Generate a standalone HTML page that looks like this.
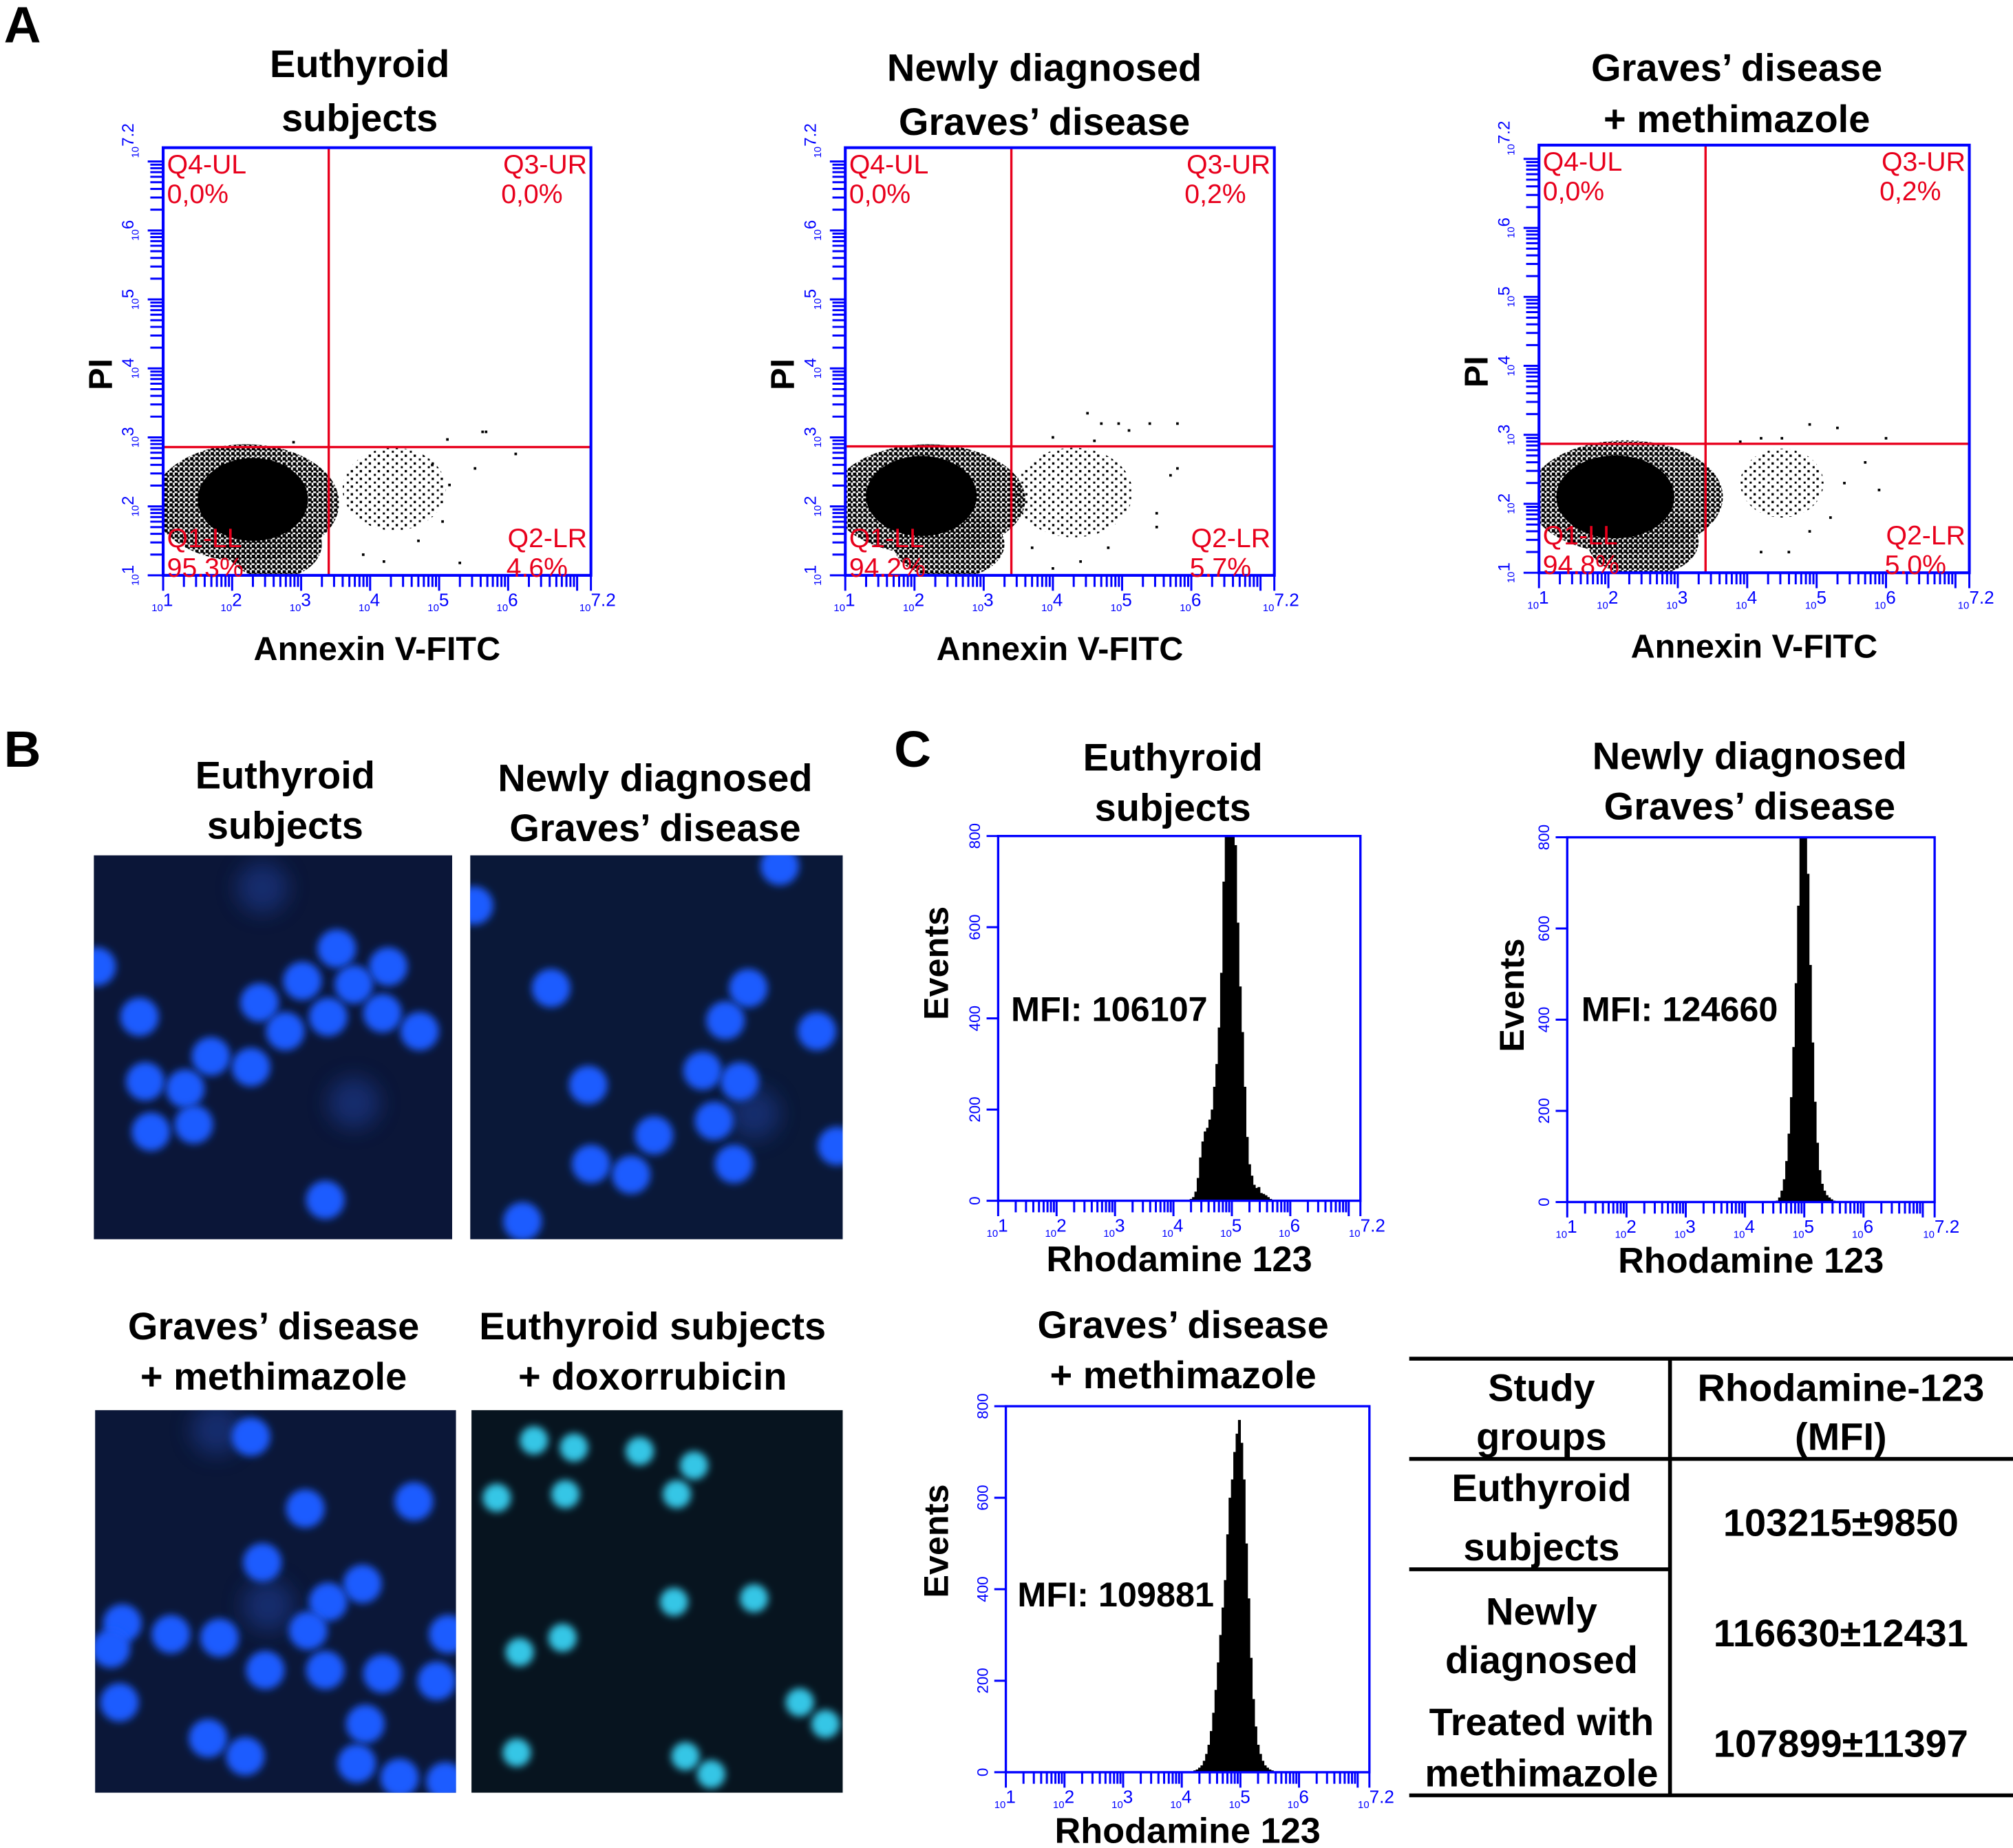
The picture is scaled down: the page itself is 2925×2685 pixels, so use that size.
<!DOCTYPE html>
<html><head><meta charset="utf-8"><style>
html,body{margin:0;padding:0;background:#fff}
svg{display:block}
text{font-family:"Liberation Sans",Arial,sans-serif}
</style></head>
<body>
<svg id="fig" xmlns="http://www.w3.org/2000/svg" width="2925" height="2685" viewBox="0 0 1567 1439" preserveAspectRatio="none">
<defs>
<pattern id="pDense" width="4" height="4" patternUnits="userSpaceOnUse"><rect width="2.6" height="2.6" fill="#000"/><rect x="2" y="2" width="1.8" height="1.8" fill="#000"/></pattern>
<pattern id="pSparse" width="7" height="6" patternUnits="userSpaceOnUse"><rect width="1.8" height="1.8" fill="#000"/><rect x="4" y="3" width="1.6" height="1.6" fill="#000"/></pattern>
<filter id="blur" x="-50%" y="-50%" width="200%" height="200%"><feGaussianBlur stdDeviation="3"/></filter>
<filter id="blur2" x="-50%" y="-50%" width="200%" height="200%"><feGaussianBlur stdDeviation="8"/></filter>
</defs>
</svg>
<script>
// ---------- DATA ----------
const scatterTitles = [["Euthyroid","subjects"],["Newly diagnosed","Graves’ disease"],["Graves’ disease","+ methimazole"]];
const q4Values = ["0,0%","0,0%","0,0%"];
const q3Values = ["0,0%","0,2%","0,2%"];
const q1Values = ["95.3%","94.2%","94.8%"];
const q2Values = ["4.6%","5.7%","5.0%"];
const quadXGate = [3.4, 3.4, 3.4];
const quadYGate = [2.86, 2.87, 2.87];
// cluster blobs in log units: [cx, cy, rx, ry]
const coreClusters = [[2.3,2.1,0.8,0.6],[2.1,2.15,0.8,0.58],[2.1,2.1,0.85,0.6]];
const denseClusters = [[2.2,2.05,1.35,0.85],[2.2,2.1,1.4,0.8],[2.25,2.1,1.4,0.82]];
const lowerClusters = [[2.6,1.45,0.7,0.5],[2.5,1.45,0.8,0.5],[2.5,1.45,0.8,0.5]];
const sparseClusters = [[4.35,2.25,0.75,0.6],[4.3,2.2,0.85,0.65],[4.5,2.3,0.6,0.5]];
const sparsePointsA1 = [[5.12,2.97],[5.63,3.08],[5.68,3.08],[6.11,2.76],[5.52,2.55],[5.15,2.31],[5.05,1.78],[5.3,1.18],[2.89,2.93],[4.9,2.6],[4.7,1.5],[3.9,1.3],[4.2,1.2]];
const sparsePointsA2 = [[4.5,3.35],[4.7,3.2],[4.95,3.2],[5.4,3.2],[5.8,3.2],[5.1,3.1],[4.0,3.0],[4.6,2.95],[5.8,2.55],[5.7,2.45],[5.5,1.9],[5.5,1.7],[4.8,1.4],[4.4,1.2],[4.0,1.1],[3.7,1.4]];
const sparsePointsA3 = [[4.2,2.95],[4.5,2.95],[4.9,3.15],[5.3,3.1],[6.0,2.95],[5.7,2.6],[5.4,2.3],[5.2,1.8],[4.9,1.6],[4.6,1.3],[3.9,2.9],[5.9,2.2],[4.2,1.3]];
const sparsePoints = [sparsePointsA1, sparsePointsA2, sparsePointsA3];

const binsC1 = [4.30,4.34,4.38,4.42,4.46,4.50,4.54,4.58,4.62,4.66,4.70,4.74,4.78,4.82,4.86,4.90,4.94,4.98,5.02,5.06,5.10,5.14,5.18,5.22,5.26,5.30,5.34,5.38,5.42,5.46,5.50,5.54,5.58,5.62,5.66];
const countsC1 = [4,8,20,50,95,130,152,160,178,200,250,300,380,500,700,800,800,800,800,780,610,470,370,250,140,80,55,35,28,30,17,15,12,8,4];
const binsC2 = [4.54,4.58,4.62,4.66,4.70,4.74,4.78,4.82,4.86,4.90,4.94,4.98,5.02,5.06,5.10,5.14,5.18,5.22,5.26,5.30,5.34,5.38,5.42,5.46,5.50];
const countsC2 = [3,10,25,50,90,150,230,340,480,650,800,800,800,720,520,350,220,130,70,40,25,15,10,6,3];
const binsC3 = [4.18,4.22,4.26,4.30,4.34,4.38,4.42,4.46,4.50,4.54,4.58,4.62,4.66,4.70,4.74,4.78,4.82,4.86,4.90,4.94,4.98,5.02,5.06,5.10,5.14,5.18,5.22,5.26,5.30,5.34,5.38,5.42,5.46,5.50,5.54,5.58];
const countsC3 = [2,4,6,10,15,25,40,60,90,130,180,240,300,360,420,520,600,640,700,740,770,720,640,500,380,250,160,100,60,40,25,15,10,6,4,2];
const mfiLabels = ["MFI: 106107","MFI: 124660","MFI: 109881"];
const eventTicks = [0,200,400,600,800];
const decadeTicks = [1,2,3,4,5,6,7];

// ---------- HELPERS ----------
const NS = "http://www.w3.org/2000/svg";
const svg = document.getElementById("fig");
function mk(tag, attrs, parent){
  const e = document.createElementNS(NS, tag);
  for (const k in attrs) e.setAttribute(k, attrs[k]);
  (parent||svg).appendChild(e);
  return e;
}
function txt(s, x, y, size, parent, extra){
  const a = {x:x, y:y, "font-size":size};
  for (const k in (extra||{})) a[k] = extra[k];
  const t = mk("text", a, parent);
  t.textContent = s;
  return t;
}
function grp(parent){ return mk("g", {}, parent); }

let el;
el = txt("A", 3, 33, 40, svg, {"font-weight":"bold"});


el = txt("B", 3, 597, 40, svg, {"font-weight":"bold"});


el = txt("C", 696, 597, 40, svg, {"font-weight":"bold"});



function logTicksX(g, L, R, B, lo, hi){
  const X = l => L + (l-lo)/(hi-lo)*(R-L);
  for (const d of decadeTicks){
    for (let k=1;k<10;k++){
      const l = d + Math.log10(k);
      if (l > hi + 1e-6) break;
      const len = k===1 ? 12 : 9;
      mk("line",{x1:X(l),x2:X(l),y1:B,y2:B+len,stroke:"#0000ff","stroke-width":1.6},g);
    }
  }
  mk("line",{x1:R,x2:R,y1:B,y2:B+12,stroke:"#0000ff","stroke-width":1.6},g);
  const labs = decadeTicks.concat([7.2]);
  for (const d of labs){
    if (d===7) continue;
    const t = mk("text",{x:X(d)-9,y:B+28,fill:"#0000ff","font-size":8},g);
    t.textContent = "10";
    const s = mk("tspan",{dy:-4,"font-size":14},t);
    s.textContent = d===7.2 ? "7.2" : String(d);
  }
}
function logTicksY(g, T, B, L, lo, hi){
  const Y = l => B - (l-lo)/(hi-lo)*(B-T);
  for (const d of decadeTicks){
    for (let k=1;k<10;k++){
      const l = d + Math.log10(k);
      if (l > hi + 1e-6) break;
      const len = k===1 ? 12 : 10;
      mk("line",{x1:L,x2:L-len,y1:Y(l),y2:Y(l),stroke:"#0000ff","stroke-width":1.6},g);
    }
  }
  const labs = decadeTicks.concat([7.2]);
  for (const d of labs){
    if (d===7) continue;
    const x = L-19, y = Y(d)+8;
    const t = mk("text",{x:x,y:y,fill:"#0000ff","font-size":8,transform:`rotate(-90 ${x} ${y})`},g);
    t.textContent = "10";
    const s = mk("tspan",{dy:-4,"font-size":13},t);
    s.textContent = d===7.2 ? "7.2" : String(d);
  }
}

// ---------- PANEL A ----------
const scatterBoxes = [[127,115,460,448],[658,115,992,448],[1198,113,1533,446]];
const titleCenters = [280,813,1352];
const titleY = [[60,102],[63,105],[63,103]];
for (let i=0;i<3;i++){
  const [L,T,R,B] = scatterBoxes[i];
  const X = l => L + (l-1)/6.2*(R-L);
  const Y = l => B - (l-1)/6.2*(B-T);
  const g = grp();
  
  
  const tt = txt(scatterTitles[i][0], titleCenters[i], titleY[i][0], 30, g, {"font-weight":"bold","text-anchor":"middle"});
  
  
  const tt2 = txt(scatterTitles[i][1], titleCenters[i], titleY[i][1], 30, g, {"font-weight":"bold","text-anchor":"middle"});
  
  
  const cp = mk("clipPath",{id:"clipA"+i},g);
  mk("rect",{x:L,y:T,width:R-L,height:Y(quadYGate[i]+0.05)-T+ (B-Y(quadYGate[i]+0.05))},cp);
  const pts = grp(g);
  pts.setAttribute("clip-path",`url(#clipA${i})`);
  
  
  const pxX = (R-L)/6.2, pxY = (B-T)/6.2;
  const sc = sparseClusters[i];
  mk("ellipse",{cx:X(sc[0]),cy:Y(sc[1]),rx:sc[2]*pxX,ry:sc[3]*pxY,fill:"url(#pSparse)"},pts);
  const dc = denseClusters[i];
  mk("ellipse",{cx:X(dc[0]),cy:Y(dc[1]),rx:dc[2]*pxX,ry:dc[3]*pxY,fill:"url(#pDense)"},pts);
  const lc = lowerClusters[i];
  mk("ellipse",{cx:X(lc[0]),cy:Y(lc[1]),rx:lc[2]*pxX,ry:lc[3]*pxY,fill:"url(#pDense)"},pts);
  const cc = coreClusters[i];
  const core = mk("ellipse",{cx:X(cc[0]),cy:Y(cc[1]),rx:cc[2]*pxX,ry:cc[3]*pxY,fill:"#000"},pts);
  
  
  for (const p of sparsePoints[i]){
    const d = mk("rect",{x:X(p[0])-1,y:Y(p[1])-1,width:2,height:2,fill:"#000"},pts);
    
    
  }
  const vl = mk("line",{x1:X(quadXGate[i]),x2:X(quadXGate[i]),y1:T,y2:B,stroke:"#e8001c","stroke-width":1.8},g);
  
  
  const hl = mk("line",{x1:L,x2:R,y1:Y(quadYGate[i]),y2:Y(quadYGate[i]),stroke:"#e8001c","stroke-width":1.8},g);
  
  
  const bx = mk("rect",{x:L,y:T,width:R-L,height:B-T,fill:"none",stroke:"#0000ff","stroke-width":2.2},g);
  
  
  const red = {fill:"#e8001c"};
  let q;
  q = txt("Q4-UL", L+3, T+20, 21, g, red);  
  q = txt(q4Values[i], L+3, T+43, 21, g, red);  
  q = txt("Q3-UR", R-3, T+20, 21, g, Object.assign({"text-anchor":"end"},red));  
  q = txt(q3Values[i], R-22, T+43, 21, g, Object.assign({"text-anchor":"end"},red));  
  q = txt("Q1-LL", L+3, B-22, 21, g, red);  
  q = txt(q1Values[i], L+3, B+1, 21, g, red);  
  q = txt("Q2-LR", R-3, B-22, 21, g, Object.assign({"text-anchor":"end"},red));  
  q = txt(q2Values[i], R-18, B+1, 21, g, Object.assign({"text-anchor":"end"},red));  
  logTicksX(g, L, R, B, 1, 7.2);
  logTicksY(g, T, B, L, 1, 7.2);
  const xt = txt("Annexin V-FITC", (L+R)/2, B+66, 26, g, {"font-weight":"bold","text-anchor":"middle"});
  
  
  const yx = L-40, yy = (T+B)/2 + 10;
  const yt = txt("PI", yx, yy, 26, g, {"font-weight":"bold","text-anchor":"middle",transform:`rotate(-90 ${yx} ${yy})`});
  
  
}

// ---------- PANEL B ----------
const micTitles = [["Euthyroid","subjects"],["Newly diagnosed","Graves’ disease"],["Graves’ disease","+ methimazole"],["Euthyroid subjects","+ doxorrubicin"]];
const micTitlePos = [[222,614,653],[510,616,655],[213,1043,1082],[508,1043,1082]];
const micBoxes = [[73,666,352,965],[366,666,656,965],[74,1098,355,1396],[367,1098,656,1396]];
const micBg = ["#0b1638","#0a1838","#0b1738","#07141f"];
const cellsZ = [
 [[590,315],[680,340],[530,360],[620,365],[455,390],[670,405],[575,410],[735,430],[500,430],[245,410],[370,465],[440,480],[255,500],[325,510],[265,570],[340,560],[570,665],[170,340]],
 [[1365,200],[830,255],[965,370],[1310,370],[1270,415],[1430,430],[1030,505],[1230,485],[1295,500],[1250,555],[1145,575],[1465,590],[1035,615],[1105,630],[1285,615],[915,695]],
 [[440,995],[535,1095],[725,1085],[460,1170],[635,1200],[575,1225],[215,1255],[195,1290],[300,1270],[385,1275],[540,1265],[785,1270],[465,1320],[570,1320],[670,1325],[765,1335],[210,1365],[365,1415],[430,1440],[640,1395],[625,1450],[700,1470],[780,1475]],
 [[935,1000],[1005,1010],[1120,1015],[1215,1035],[870,1080],[990,1075],[1185,1075],[1180,1225],[1320,1220],[910,1295],[985,1275],[1400,1365],[1445,1395],[905,1435],[1200,1440],[1245,1465]]
];
const faintZ = [[[460,230],[620,530]],[[1320,545]],[[470,1230],[380,985]],[]];
for (let i=0;i<4;i++){
  const [x0,y0,x1,y1] = micBoxes[i];
  const g = grp();
  
  
  const t1 = txt(micTitles[i][0], micTitlePos[i][0], micTitlePos[i][1], 30, g, {"font-weight":"bold","text-anchor":"middle"});
  
  
  const t2 = txt(micTitles[i][1], micTitlePos[i][0], micTitlePos[i][2], 30, g, {"font-weight":"bold","text-anchor":"middle"});
  
  
  const cp = mk("clipPath",{id:"clipB"+i},g);
  mk("rect",{x:x0,y:y0,width:x1-x0,height:y1-y0},cp);
  const img = grp(g);
  img.setAttribute("clip-path",`url(#clipB${i})`);
  mk("rect",{x:x0,y:y0,width:x1-x0,height:y1-y0,fill:micBg[i]},img);
  const mapX = zx => 73 + (zx-165)*0.445;
  const mapY = zy => 666 + (zy-185)*0.559;
  for (const f of faintZ[i]){
    mk("circle",{cx:mapX(f[0]),cy:mapY(f[1]),r:20,fill:"#1a3a90",opacity:0.6,filter:"url(#blur2)"},img);
  }
  const col = i===3 ? "#36c6e6" : "#1f5cff";
  const rr = i===3 ? 11 : 15;
  for (const c of cellsZ[i]){
    const ce = mk("circle",{cx:mapX(c[0]),cy:mapY(c[1]),r:rr,fill:col,filter:"url(#blur)"},img);
    
    
  }
}

// ---------- PANEL C ----------
const histTitles = [["Euthyroid","subjects"],["Newly diagnosed","Graves’ disease"],["Graves’ disease","+ methimazole"]];
const histBoxes = [[777,651,1059,935],[1220,652,1506,936],[783,1095,1066,1380]];
const histTitleC = [[913,600,639],[1362,599,638],[921,1042,1081]];
const histBins = [binsC1, binsC2, binsC3];
const histCounts = [countsC1, countsC2, countsC3];
const mfiPos = [[787,795],[1231,795],[792,1251]];
const eventsPos = [[738,750],[1186,775],[738,1200]];
for (let i=0;i<3;i++){
  const [L,T,R,B] = histBoxes[i];
  const X = l => L + (l-1)/6.2*(R-L);
  const Y = v => B - v/800*(B-T);
  const g = grp();
  
  
  const t1 = txt(histTitles[i][0], histTitleC[i][0], histTitleC[i][1], 30, g, {"font-weight":"bold","text-anchor":"middle"});
  
  
  const t2 = txt(histTitles[i][1], histTitleC[i][0], histTitleC[i][2], 30, g, {"font-weight":"bold","text-anchor":"middle"});
  
  
  const bins = histBins[i], counts = histCounts[i];
  const hw = 0.021;
  for (let k=0;k<bins.length;k++){
    const x0 = X(bins[k]-hw), x1 = X(bins[k]+hw);
    const b = mk("rect",{x:x0,y:Y(counts[k]),width:x1-x0+0.3,height:B-Y(counts[k]),fill:"#000"},g);
    
    
  }
  const bx = mk("rect",{x:L,y:T,width:R-L,height:B-T,fill:"none",stroke:"#0000ff","stroke-width":1.8},g);
  
  
  logTicksX(g, L, R, B, 1, 7.2);
  for (const v of eventTicks){
    mk("line",{x1:L,x2:L-9,y1:Y(v),y2:Y(v),stroke:"#0000ff","stroke-width":1.6},g);
    const x = L-14, y = Y(v);
    const lt = txt(String(v), x, y, 12, g, {fill:"#0000ff","text-anchor":"middle",transform:`rotate(-90 ${x} ${y})`});
    
    
  }
  const mf = txt(mfiLabels[i], mfiPos[i][0], mfiPos[i][1], 27, g, {"font-weight":"bold"});
  
  
  const ex = eventsPos[i][0], ey = eventsPos[i][1];
  const et = txt("Events", ex, ey, 27, g, {"font-weight":"bold","text-anchor":"middle",transform:`rotate(-90 ${ex} ${ey})`});
  
  
  const xt = txt("Rhodamine 123", (L+R)/2, B+55, 28, g, {"font-weight":"bold","text-anchor":"middle"});
  
  
}

// ---------- TABLE ----------
const tg = grp();


const lines = [[1097,1058,1567,1058],[1097,1136,1567,1136],[1097,1222,1300,1222],[1097,1398,1567,1398],[1300,1058,1300,1398]];
for (const l of lines){
  mk("line",{x1:l[0],y1:l[1],x2:l[2],y2:l[3],stroke:"#000","stroke-width":3},tg);
}
const cells = [
 ["Study",1200,1091],["groups",1200,1129],["Rhodamine-123",1433,1091],["(MFI)",1433,1129],
 ["Euthyroid",1200,1169],["subjects",1200,1215],["103215±9850",1433,1196],
 ["Newly",1200,1265],["diagnosed",1200,1303],["116630±12431",1433,1282],
 ["Treated with",1200,1351],["methimazole",1200,1391],["107899±11397",1433,1368]
];
for (const c of cells){
  const t = txt(c[0], c[1], c[2], 30, tg, {"font-weight":"bold","text-anchor":"middle"});
  
  
}
</script>
</body></html>
